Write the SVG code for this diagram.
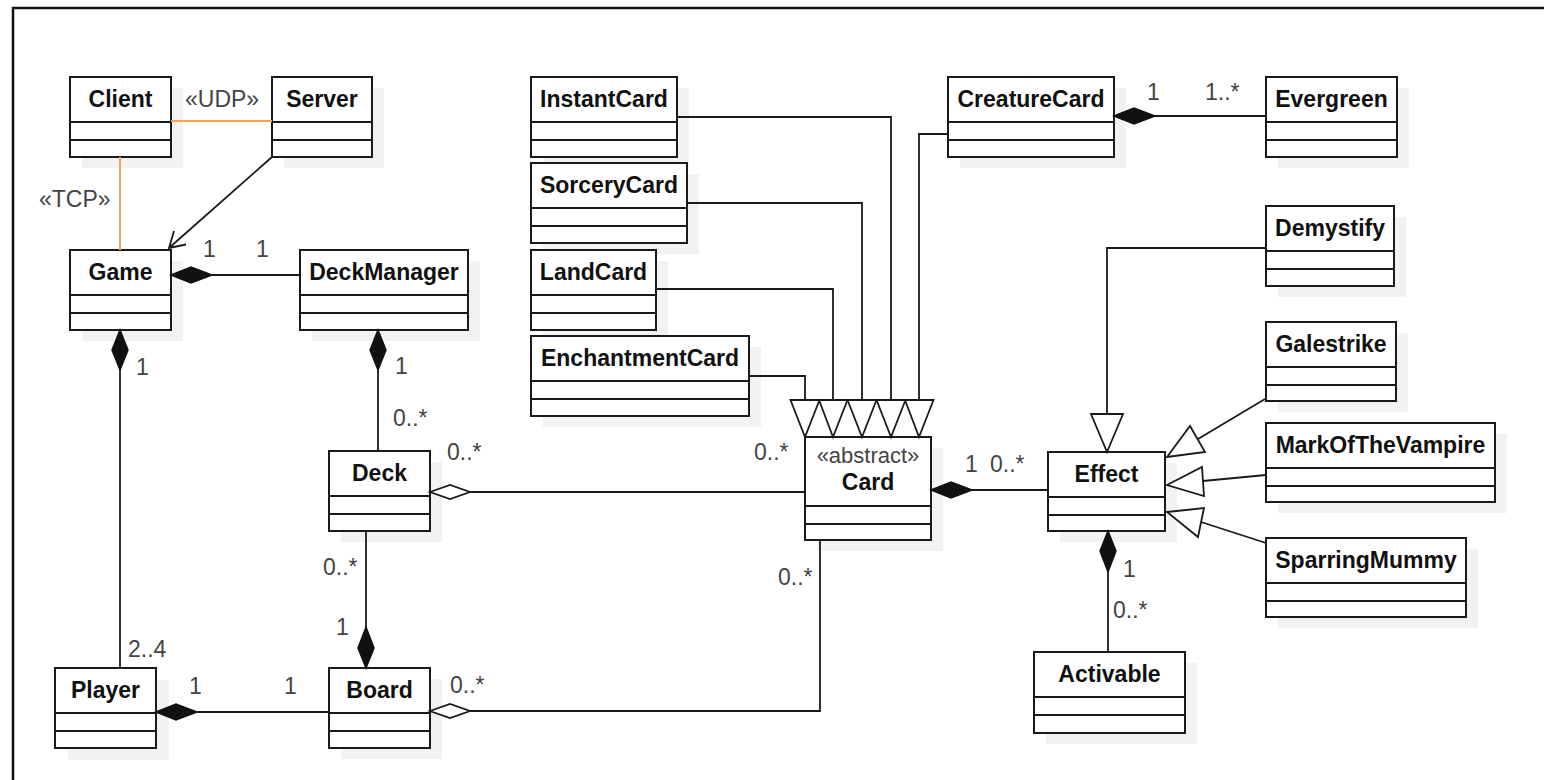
<svg xmlns="http://www.w3.org/2000/svg" width="1544" height="780" viewBox="0 0 1544 780">
<style>
.box{fill:#fff;stroke:#1a1a1a;stroke-width:2}
.sh{fill:#f2f2f2;stroke:none}
.sep{stroke:#1a1a1a;stroke-width:2}
.name{font-family:"Liberation Sans",Arial,sans-serif;font-weight:bold;font-size:23px;text-anchor:middle;fill:#111}
.ster{font-family:"Liberation Sans",Arial,sans-serif;font-size:22px;text-anchor:middle;fill:#444}
.lbl{font-family:"Liberation Sans",Arial,sans-serif;font-size:23px;fill:#444}
.ln{fill:none;stroke:#1a1a1a;stroke-width:1.8}
.net{fill:none;stroke:#F0A35E;stroke-width:2}
.fd{fill:#111;stroke:#111;stroke-width:1.5}
.hd{fill:#fff;stroke:#1a1a1a;stroke-width:1.8}
.tri{fill:#fff;stroke:#1a1a1a;stroke-width:1.8}
</style>
<rect width="1544" height="780" fill="#fff"/>
<path d="M13,780 V8 H1544" fill="none" stroke="#111" stroke-width="2.5"/>

<g id="Client"><rect class="sh" x="82" y="88" width="101" height="80"/><rect class="box" x="70" y="77" width="101" height="80"/><line class="sep" x1="70" y1="122" x2="171" y2="122"/><line class="sep" x1="70" y1="140" x2="171" y2="140"/><text class="name" x="120.5" y="107">Client</text></g>
<g id="Server"><rect class="sh" x="284" y="88" width="100" height="80"/><rect class="box" x="272" y="77" width="100" height="80"/><line class="sep" x1="272" y1="122" x2="372" y2="122"/><line class="sep" x1="272" y1="140" x2="372" y2="140"/><text class="name" x="322" y="107">Server</text></g>
<g id="Game"><rect class="sh" x="82" y="261" width="101" height="80"/><rect class="box" x="70" y="250" width="101" height="80"/><line class="sep" x1="70" y1="295" x2="171" y2="295"/><line class="sep" x1="70" y1="313" x2="171" y2="313"/><text class="name" x="120.5" y="280">Game</text></g>
<g id="DeckManager"><rect class="sh" x="312" y="261" width="168" height="80"/><rect class="box" x="300" y="250" width="168" height="80"/><line class="sep" x1="300" y1="295" x2="468" y2="295"/><line class="sep" x1="300" y1="313" x2="468" y2="313"/><text class="name" x="384" y="280">DeckManager</text></g>
<g id="Deck"><rect class="sh" x="341" y="462" width="101" height="80"/><rect class="box" x="329" y="451" width="101" height="80"/><line class="sep" x1="329" y1="496" x2="430" y2="496"/><line class="sep" x1="329" y1="514" x2="430" y2="514"/><text class="name" x="379.5" y="481">Deck</text></g>
<g id="Board"><rect class="sh" x="341" y="679" width="101" height="80"/><rect class="box" x="329" y="668" width="101" height="80"/><line class="sep" x1="329" y1="713" x2="430" y2="713"/><line class="sep" x1="329" y1="731" x2="430" y2="731"/><text class="name" x="379.5" y="698">Board</text></g>
<g id="Player"><rect class="sh" x="68" y="680" width="101" height="80"/><rect class="box" x="55" y="668" width="101" height="80"/><line class="sep" x1="55" y1="713" x2="156" y2="713"/><line class="sep" x1="55" y1="731" x2="156" y2="731"/><text class="name" x="105.5" y="698">Player</text></g>
<g id="InstantCard"><rect class="sh" x="543" y="88" width="146" height="80"/><rect class="box" x="531" y="77" width="146" height="80"/><line class="sep" x1="531" y1="122" x2="677" y2="122"/><line class="sep" x1="531" y1="140" x2="677" y2="140"/><text class="name" x="604" y="107">InstantCard</text></g>
<g id="SorceryCard"><rect class="sh" x="543" y="174" width="156" height="80"/><rect class="box" x="531" y="163" width="156" height="80"/><line class="sep" x1="531" y1="208" x2="687" y2="208"/><line class="sep" x1="531" y1="226" x2="687" y2="226"/><text class="name" x="609" y="193">SorceryCard</text></g>
<g id="LandCard"><rect class="sh" x="543" y="261" width="125" height="80"/><rect class="box" x="531" y="250" width="125" height="80"/><line class="sep" x1="531" y1="295" x2="656" y2="295"/><line class="sep" x1="531" y1="313" x2="656" y2="313"/><text class="name" x="593.5" y="280">LandCard</text></g>
<g id="EnchantmentCard"><rect class="sh" x="543" y="347" width="218" height="80"/><rect class="box" x="531" y="336" width="218" height="80"/><line class="sep" x1="531" y1="381" x2="749" y2="381"/><line class="sep" x1="531" y1="399" x2="749" y2="399"/><text class="name" x="640" y="366">EnchantmentCard</text></g>
<g id="CreatureCard"><rect class="sh" x="960" y="88" width="166" height="80"/><rect class="box" x="948" y="77" width="166" height="80"/><line class="sep" x1="948" y1="122" x2="1114" y2="122"/><line class="sep" x1="948" y1="140" x2="1114" y2="140"/><text class="name" x="1031" y="107">CreatureCard</text></g>
<g id="Evergreen"><rect class="sh" x="1278" y="88" width="131" height="80"/><rect class="box" x="1266" y="77" width="131" height="80"/><line class="sep" x1="1266" y1="122" x2="1397" y2="122"/><line class="sep" x1="1266" y1="140" x2="1397" y2="140"/><text class="name" x="1331.5" y="107">Evergreen</text></g>
<g id="Demystify"><rect class="sh" x="1278" y="217" width="128" height="80"/><rect class="box" x="1266" y="206" width="128" height="80"/><line class="sep" x1="1266" y1="251" x2="1394" y2="251"/><line class="sep" x1="1266" y1="269" x2="1394" y2="269"/><text class="name" x="1330" y="236">Demystify</text></g>
<g id="Galestrike"><rect class="sh" x="1278" y="333" width="130" height="79"/><rect class="box" x="1266" y="322" width="130" height="79"/><line class="sep" x1="1266" y1="367" x2="1396" y2="367"/><line class="sep" x1="1266" y1="385" x2="1396" y2="385"/><text class="name" x="1331" y="352">Galestrike</text></g>
<g id="MarkOfTheVampire"><rect class="sh" x="1278" y="434" width="229" height="79"/><rect class="box" x="1266" y="423" width="229" height="79"/><line class="sep" x1="1266" y1="468" x2="1495" y2="468"/><line class="sep" x1="1266" y1="486" x2="1495" y2="486"/><text class="name" x="1380.5" y="453">MarkOfTheVampire</text></g>
<g id="SparringMummy"><rect class="sh" x="1278" y="549" width="200" height="79"/><rect class="box" x="1266" y="538" width="200" height="79"/><line class="sep" x1="1266" y1="583" x2="1466" y2="583"/><line class="sep" x1="1266" y1="601" x2="1466" y2="601"/><text class="name" x="1366" y="568">SparringMummy</text></g>
<g id="Effect"><rect class="sh" x="1060" y="463" width="117" height="79"/><rect class="box" x="1048" y="452" width="117" height="79"/><line class="sep" x1="1048" y1="497" x2="1165" y2="497"/><line class="sep" x1="1048" y1="515" x2="1165" y2="515"/><text class="name" x="1106.5" y="482">Effect</text></g>
<g id="Activable"><rect class="sh" x="1046" y="663" width="151" height="81"/><rect class="box" x="1034" y="652" width="151" height="81"/><line class="sep" x1="1034" y1="697" x2="1185" y2="697"/><line class="sep" x1="1034" y1="715" x2="1185" y2="715"/><text class="name" x="1109.5" y="682">Activable</text></g>
<g id="Card"><rect class="sh" x="817" y="448" width="126" height="103"/><rect class="box" x="805" y="437" width="126" height="103"/><line class="sep" x1="805" y1="506" x2="931" y2="506"/><line class="sep" x1="805" y1="524" x2="931" y2="524"/><text class="ster" x="868" y="463">«abstract»</text><text class="name" x="868" y="490">Card</text></g>

<g id="connectors">
<line class="net" x1="171" y1="121" x2="272" y2="121"/>
<line class="net" x1="120" y1="157" x2="120" y2="250"/>
<path class="ln" d="M272,157 L169,248 M186,244.5 L169,248 L174,231"/>
<line class="ln" x1="212" y1="275" x2="300" y2="275"/>
<polygon class="fd" points="171,275 191,267 212,275 191,283"/>
<line class="ln" x1="120" y1="370" x2="120" y2="668"/>
<polygon class="fd" points="120,330 128,350 120,370 112,350"/>
<line class="ln" x1="378" y1="370" x2="378" y2="451"/>
<polygon class="fd" points="378,330 386,350 378,370 370,350"/>
<line class="ln" x1="366" y1="531" x2="366" y2="627"/>
<polygon class="fd" points="366,668 374,648 366,627 358,648"/>
<line class="ln" x1="197" y1="712" x2="329" y2="712"/>
<polygon class="fd" points="156,712 176,704 197,712 176,720"/>
<line class="ln" x1="470" y1="492" x2="805" y2="492"/>
<polygon class="hd" points="430,492 450,485 470,492 450,499"/>
<path class="ln" d="M470,711 H820 V540"/>
<polygon class="hd" points="430,711 450,704 470,711 450,718"/>
<line class="ln" x1="972" y1="490" x2="1048" y2="490"/>
<polygon class="fd" points="931,490 951,482 972,490 951,498"/>
<line class="ln" x1="1108" y1="572" x2="1108" y2="652"/>
<polygon class="fd" points="1108,531 1116,551 1108,572 1100,551"/>
<line class="ln" x1="1155" y1="116" x2="1266" y2="116"/>
<polygon class="fd" points="1114,116 1134,108 1155,116 1134,124"/>
<path class="ln" d="M677,117 H891 V400"/>
<path class="ln" d="M687,203 H862 V400"/>
<path class="ln" d="M656,289 H833 V400"/>
<path class="ln" d="M749,376 H805 V400"/>
<path class="ln" d="M948,134 H919 V400"/>
<polygon class="tri" points="790.5,400 819.5,400 805,437"/>
<polygon class="tri" points="819,400 847.5,400 833,437"/>
<polygon class="tri" points="847.5,400 876.5,400 862,437"/>
<polygon class="tri" points="876.5,400 905.5,400 891,437"/>
<polygon class="tri" points="905,400 933.5,400 919,437"/>
<path class="ln" d="M1266,248 H1107 V414"/>
<polygon class="tri" points="1091,414 1123,414 1107,452"/>
<line class="ln" x1="1265" y1="399" x2="1198" y2="439"/>
<polygon class="tri" points="1167,457 1190,426 1205,452"/>
<line class="ln" x1="1266" y1="475" x2="1203" y2="481"/>
<polygon class="tri" points="1167,485 1202,467 1204,496"/>
<line class="ln" x1="1266" y1="543" x2="1201" y2="522"/>
<polygon class="tri" points="1167,512 1204,508 1198,537"/>
</g>

<g id="labels">
<text class="lbl" x="185" y="107">«UDP»</text>
<text class="lbl" x="39" y="207">«TCP»</text>
<text class="lbl" x="203" y="257">1</text>
<text class="lbl" x="256" y="257">1</text>
<text class="lbl" x="136" y="375">1</text>
<text class="lbl" x="128" y="657">2..4</text>
<text class="lbl" x="189" y="694">1</text>
<text class="lbl" x="284" y="694">1</text>
<text class="lbl" x="395" y="374">1</text>
<text class="lbl" x="393" y="426">0..*</text>
<text class="lbl" x="447" y="460">0..*</text>
<text class="lbl" x="754" y="460">0..*</text>
<text class="lbl" x="323" y="575">0..*</text>
<text class="lbl" x="336" y="635">1</text>
<text class="lbl" x="450" y="693">0..*</text>
<text class="lbl" x="778" y="585">0..*</text>
<text class="lbl" x="965" y="472">1</text>
<text class="lbl" x="990" y="472">0..*</text>
<text class="lbl" x="1123" y="577">1</text>
<text class="lbl" x="1113" y="618">0..*</text>
<text class="lbl" x="1147" y="100">1</text>
<text class="lbl" x="1205" y="100">1..*</text>
</g>
</svg>
